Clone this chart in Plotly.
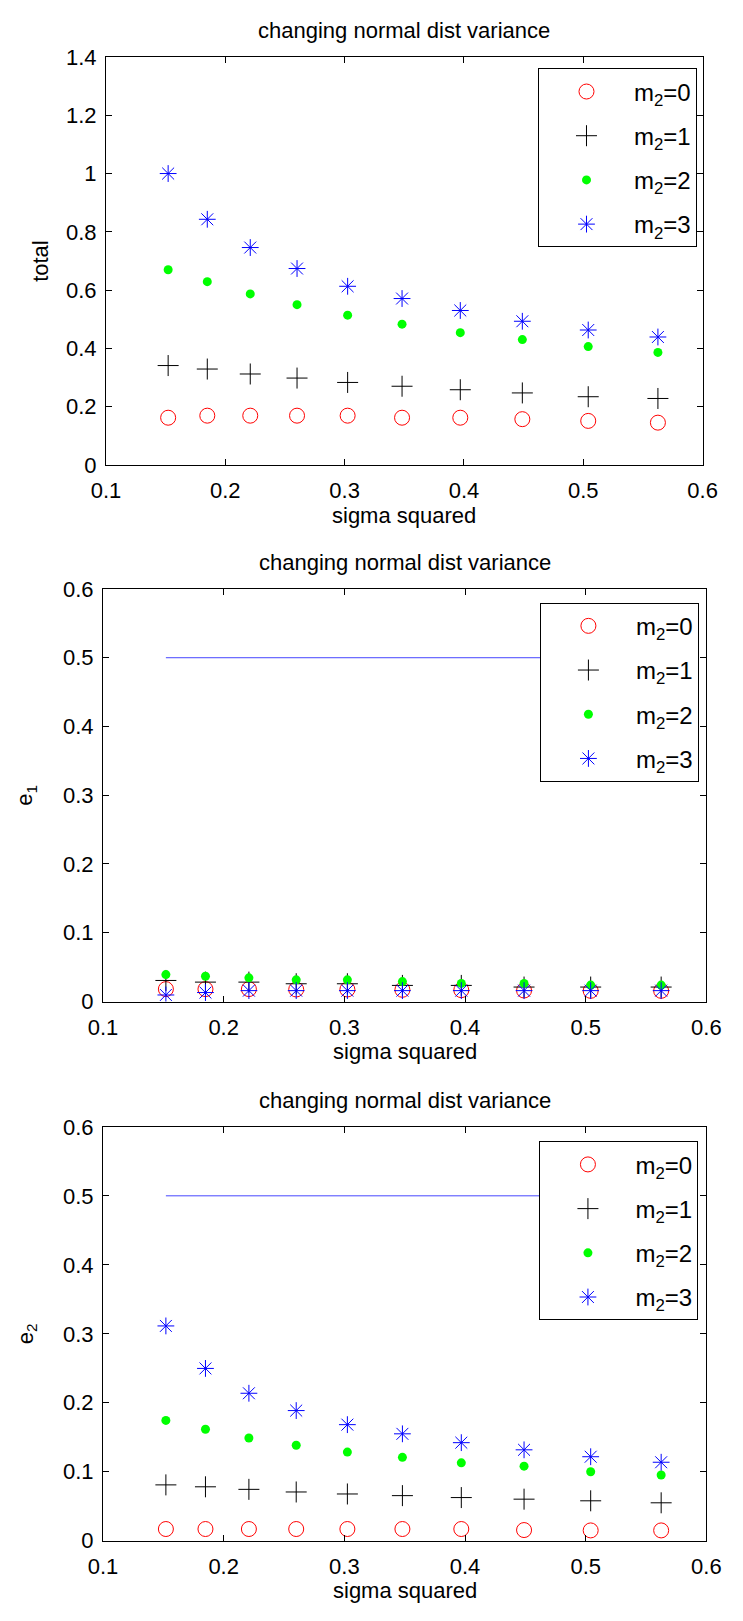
import plotly.graph_objects as go

# ---------------- data ----------------
sigma_sq = [0.1521, 0.1849, 0.2209, 0.2601, 0.3025, 0.3481, 0.3969, 0.4489, 0.5041, 0.5625]

total_m0 = [0.162, 0.169, 0.169, 0.169, 0.169, 0.162, 0.162, 0.157, 0.151, 0.145]
total_m1 = [0.341, 0.329, 0.312, 0.298, 0.283, 0.270, 0.258, 0.247, 0.234, 0.228]
total_m2 = [0.670, 0.629, 0.587, 0.550, 0.514, 0.483, 0.454, 0.430, 0.406, 0.386]
total_m3 = [1.000, 0.843, 0.746, 0.674, 0.613, 0.571, 0.530, 0.493, 0.463, 0.439]

e1_m0 = [0.018, 0.018, 0.018, 0.0175, 0.0175, 0.017, 0.0165, 0.016, 0.0155, 0.0155]
e1_m1 = [0.0306, 0.0282, 0.0282, 0.0258, 0.0258, 0.0234, 0.0234, 0.021, 0.021, 0.021]
e1_m2 = [0.0391, 0.0367, 0.0344, 0.0315, 0.0315, 0.029, 0.0263, 0.0263, 0.0239, 0.0239]
e1_m3 = [0.0095, 0.013, 0.0158, 0.0158, 0.0158, 0.0158, 0.0158, 0.0158, 0.0158, 0.0158]

e2_m0 = [0.017, 0.017, 0.017, 0.017, 0.017, 0.017, 0.017, 0.0155, 0.015, 0.015]
e2_m1 = [0.081, 0.0782, 0.0745, 0.0707, 0.0678, 0.0654, 0.0626, 0.0603, 0.0579, 0.055]
e2_m2 = [0.1745, 0.1617, 0.1489, 0.1385, 0.1285, 0.1209, 0.1129, 0.1081, 0.1001, 0.0953]
e2_m3 = [0.3114, 0.2498, 0.2138, 0.1887, 0.1683, 0.155, 0.1422, 0.1318, 0.1218, 0.1138]

ref_line_x = [0.1521, 0.5625]
ref_line_y = [0.5, 0.5]

legend_names = ["m<sub>2</sub>=0", "m<sub>2</sub>=1", "m<sub>2</sub>=2", "m<sub>2</sub>=3"]
title_text = "changing normal dist variance"
x_title = "sigma squared"
y_titles = ["total", "e<sub>1</sub>", "e<sub>2</sub>"]

# ---------------- layout geometry (pixels) ----------------
W, H = 743, 1621
FONT = "Liberation Sans, Arial, sans-serif"
panels = [  # (left, right, top, bottom px, y max, dtick, legend left, legend top, ytitle x)
    (94.8, 716.6, 45.7, 460.0, 1.4, 0.2, 545, 57.3, 27),
    (91.7, 720.5, 586.0, 1005.0, 0.6, 0.1, 547, 600.0, 12),
    (91.7, 720.5, 1132.3, 1552.7, 0.6, 0.1, 546.5, 1147.0, 12),
]

def px_x(v):
    return v / W

def px_y(v):
    return 1 - v / H

styles = [
    dict(symbol="circle-open", size=15, color="#ff0000", line=dict(color="#ff0000", width=1)),
    dict(symbol="cross-thin-open", size=15, color="#000000", line=dict(color="#000000", width=1)),
    dict(symbol="circle", size=9, color="#00ff00", line=dict(width=0)),
    dict(symbol="asterisk-open", size=14, color="#0000ff", line=dict(color="#0000ff", width=1)),
]

series = [
    [total_m0, total_m1, total_m2, total_m3],
    [e1_m0, e1_m1, e1_m2, e1_m3],
    [e2_m0, e2_m1, e2_m2, e2_m3],
]

fig = go.Figure()
layout = dict(
    width=W, height=H,
    margin=dict(l=0, r=0, t=0, b=0),
    paper_bgcolor="white", plot_bgcolor="white",
    font=dict(family=FONT, size=22, color="black"),
    showlegend=True,
    annotations=[],
)

for i, (xl, xr, top, bot, ymax, dtick, lg_left, lg_top, ytx) in enumerate(panels):
    n = i + 1
    xa = "x" if n == 1 else f"x{n}"
    ya = "y" if n == 1 else f"y{n}"
    lg = "legend" if n == 1 else f"legend{n}"

    if i > 0:
        fig.add_trace(go.Scatter(
            x=ref_line_x, y=ref_line_y, mode="lines",
            line=dict(color="rgb(70,70,255)", width=1),
            showlegend=False, xaxis=xa, yaxis=ya, hoverinfo="skip"))

    for k, (vals, st) in enumerate(zip(series[i], styles)):
        fig.add_trace(go.Scatter(
            x=sigma_sq, y=vals, mode="markers", name=legend_names[k],
            marker=st, xaxis=xa, yaxis=ya, legend=lg,
            legendgroup=f"p{n}_{k}"))

    axis_common = dict(
        showline=True, linecolor="black", linewidth=1, mirror="ticks",
        ticks="inside", ticklen=6, tickwidth=1, tickcolor="black",
        showgrid=False, zeroline=False,
        tickfont=dict(family=FONT, size=22, color="black"),
    )
    layout["xaxis" if n == 1 else f"xaxis{n}"] = dict(
        axis_common, domain=[px_x(xl), px_x(xr)],
        range=[0.1, 0.6], dtick=0.1, tick0=0.1, anchor=ya,
        ticklabelstandoff=6)
    layout["yaxis" if n == 1 else f"yaxis{n}"] = dict(
        axis_common, domain=[px_y(bot), px_y(top)],
        range=[0, ymax], dtick=dtick, tick0=0, anchor=xa,
        ticklabelstandoff=4)

    layout[lg] = dict(
        x=px_x(lg_left), y=px_y(lg_top), xanchor="left", yanchor="top",
        xref="paper", yref="paper",
        bgcolor="white", bordercolor="black", borderwidth=1,
        font=dict(family=FONT, size=24, color="black"),
        itemwidth=85, tracegroupgap=10,
    )

    cx = (xl + xr) / 2
    layout["annotations"].append(dict(
        text=title_text, x=px_x(cx), y=px_y(top - 26.5), xref="paper", yref="paper",
        xanchor="center", yanchor="middle", showarrow=False,
        font=dict(family=FONT, size=22, color="black")))
    layout["annotations"].append(dict(
        text=x_title, x=px_x(cx), y=px_y(bot + 51), xref="paper", yref="paper",
        xanchor="center", yanchor="middle", showarrow=False,
        font=dict(family=FONT, size=22, color="black")))
    layout["annotations"].append(dict(
        text=y_titles[i], x=px_x(ytx), y=px_y((top + bot) / 2),
        xref="paper", yref="paper", textangle=-90,
        xanchor="center", yanchor="middle", showarrow=False,
        font=dict(family=FONT, size=22, color="black")))

fig.update_layout(**layout)
fig.write_html("out.html")
